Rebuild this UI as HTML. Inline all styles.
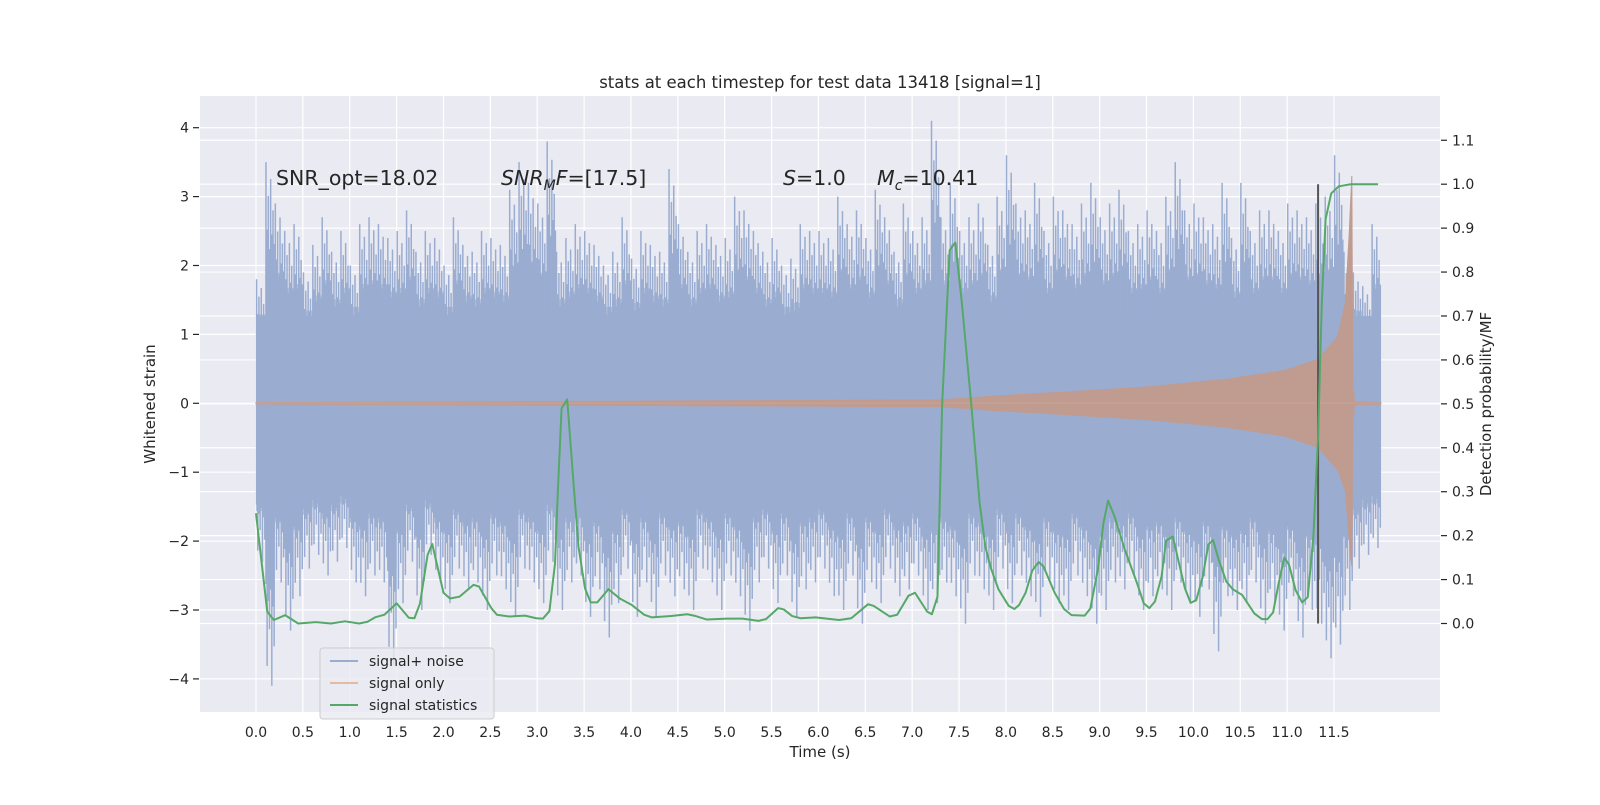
<!DOCTYPE html>
<html><head><meta charset="utf-8">
<style>
body{margin:0;background:#fff;}
svg text{font-family:"DejaVu Sans","Liberation Sans",sans-serif;fill:#262626;}
</style></head>
<body>
<svg id="chart" width="1600" height="800" viewBox="0 0 1600 800" xmlns="http://www.w3.org/2000/svg">
<rect x="200" y="96" width="1240" height="616" fill="#EAEAF2"/>
<g id="grid"></g>
<g id="noise"></g>
<g id="sig"></g>
<g id="stat"></g>
<g id="axes"></g>
<text x="820" y="88" font-size="16.5" text-anchor="middle">stats at each timestep for test data 13418 [signal=1]</text>
<text x="820" y="757" font-size="15" text-anchor="middle">Time (s)</text>
<text transform="translate(155,404) rotate(-90)" font-size="15" text-anchor="middle">Whitened strain</text>
<text transform="translate(1491,404) rotate(-90)" font-size="15" text-anchor="middle">Detection probability/MF</text>
<text x="276" y="185" font-size="20.5">SNR_opt=18.02</text>
<text x="501" y="185" font-size="20.5"><tspan font-style="italic">SNR</tspan><tspan font-style="italic" font-size="14" dy="5">M</tspan><tspan font-style="italic" dy="-5">F</tspan>=[17.5]</text>
<text x="783" y="185" font-size="20.5"><tspan font-style="italic">S</tspan>=1.0</text>
<text x="877" y="185" font-size="20.5"><tspan font-style="italic">M</tspan><tspan font-style="italic" font-size="14" dy="5">c</tspan><tspan dy="-5">=10.41</tspan></text>
<g>
<rect x="320" y="648" width="174" height="71" rx="3" fill="#EAEAF2" fill-opacity="0.8" stroke="#cccccc"/>
<line x1="330" y1="661" x2="358" y2="661" stroke="#9AADD1" stroke-width="2"/>
<text x="369" y="666" font-size="14">signal+ noise</text>
<line x1="330" y1="683" x2="358" y2="683" stroke="#E5B9A3" stroke-width="2"/>
<text x="369" y="688" font-size="14">signal only</text>
<line x1="330" y1="705" x2="358" y2="705" stroke="#55A868" stroke-width="2"/>
<text x="369" y="710" font-size="14">signal statistics</text>
</g>
</svg>
<script>
// noise peak envelope per 0.1 s bin
const noiseTop=[1.8,3.5,2.9,2.5,2.6,1.9,2.3,2.7,2.2,2.5,2.0,2.6,
2.7,2.6,2.4,2.5,2.8,2.2,2.5,2.4,2.0,2.7,2.3,2.2,
2.5,2.4,2.3,3.1,3.5,3.2,2.9,3.8,2.2,2.4,2.6,2.5,
2.3,2.0,2.2,2.7,2.1,2.5,2.3,2.2,3.4,2.6,2.2,2.5,
2.6,2.3,2.4,3.0,2.8,2.5,2.2,2.4,2.0,2.1,2.6,2.5,
2.5,2.4,3.0,2.6,2.8,2.4,3.1,2.7,2.2,2.9,2.5,2.7,
4.1,2.7,3.2,2.5,2.7,2.9,2.3,3.0,3.6,2.9,2.8,3.2,
2.5,3.0,2.8,2.6,2.9,3.2,2.7,2.9,3.1,2.5,2.6,2.8,
2.5,3.0,3.5,2.8,2.9,2.7,2.6,3.2,2.4,3.2,2.5,2.8,
2.8,2.5,2.9,2.8,2.7,2.9,3.0,3.6,2.2,1.9,1.7,2.6];
const noiseBottom=[-2.3,-4.1,-2.6,-3.3,-2.8,-2.4,-2.2,-2.5,-2.3,-2.1,-2.6,-2.8,
-2.5,-2.6,-3.8,-2.9,-2.3,-3.0,-2.2,-2.6,-2.9,-2.4,-2.7,-2.6,
-3.0,-2.5,-2.7,-3.1,-2.4,-2.6,-2.9,-2.3,-3.0,-2.6,-2.5,-3.1,
-2.7,-3.4,-2.9,-2.4,-3.1,-2.6,-3.1,-2.5,-2.8,-2.7,-3.0,-2.4,
-2.6,-3.0,-2.5,-2.8,-3.3,-2.6,-2.4,-2.9,-2.5,-3.1,-2.7,-2.6,
-2.4,-2.8,-3.0,-2.5,-3.2,-2.6,-2.9,-2.4,-2.8,-2.7,-2.5,-3.0,
-2.9,-2.6,-2.8,-3.2,-2.5,-2.7,-3.0,-2.4,-2.9,-2.5,-2.8,-3.1,
-2.6,-2.9,-3.0,-2.5,-2.8,-3.2,-3.0,-2.6,-2.7,-2.5,-3.0,-2.8,
-2.7,-3.0,-2.6,-2.9,-3.1,-2.7,-3.6,-2.8,-3.0,-2.9,-2.6,-3.2,
-2.9,-3.3,-2.8,-3.4,-3.0,-3.2,-3.7,-3.5,-3.0,-2.4,-2.2,-2.1];
const noiseBand=1.27;
// signal-only chirp envelope
const sigTimes=[0,7.3,7.89,8.7,9.53,10.36,10.98,11.33,11.54,11.62,11.66,11.69,11.70,11.72,12.0];
const sigUpper=[0.01,0.05,0.106,0.17,0.24,0.35,0.48,0.64,0.97,1.45,2.4,3.3,0.3,0.02,0.01];
const sigLower=[-0.01,-0.05,-0.106,-0.17,-0.24,-0.35,-0.48,-0.64,-0.97,-1.26,-1.94,-2.37,-0.3,-0.02,-0.01];
// detection statistics
const statT=[0,0.12,0.19,0.31,0.45,0.64,0.80,0.95,1.10,1.19,1.27,1.37,1.50,1.63,1.69,1.75,1.83,1.88,2.0,2.07,2.17,2.32,2.38,2.51,2.57,2.70,2.87,2.99,3.06,3.13,3.19,3.22,3.26,3.32,3.38,3.44,3.51,3.57,3.64,3.76,3.88,4.01,4.14,4.22,4.43,4.60,4.69,4.81,5.02,5.19,5.36,5.44,5.57,5.63,5.72,5.81,5.97,6.22,6.35,6.53,6.59,6.76,6.84,6.96,7.03,7.16,7.21,7.27,7.32,7.40,7.46,7.53,7.63,7.72,7.78,7.84,7.92,8.03,8.09,8.14,8.21,8.28,8.35,8.40,8.52,8.62,8.70,8.84,8.90,8.98,9.04,9.09,9.16,9.27,9.40,9.47,9.53,9.59,9.66,9.71,9.78,9.83,9.91,9.97,10.03,10.10,10.16,10.21,10.27,10.35,10.42,10.52,10.65,10.73,10.79,10.85,10.91,10.97,11.02,11.09,11.16,11.22,11.28,11.33,11.37,11.41,11.47,11.55,11.68,11.97];
const statP=[0.251,0.027,0.008,0.019,0.0,0.003,0.0,0.005,0.0,0.004,0.014,0.02,0.046,0.013,0.012,0.046,0.156,0.181,0.07,0.057,0.061,0.088,0.084,0.035,0.02,0.016,0.018,0.012,0.011,0.028,0.137,0.30,0.49,0.51,0.34,0.175,0.08,0.048,0.048,0.078,0.057,0.042,0.02,0.014,0.017,0.021,0.017,0.009,0.011,0.011,0.006,0.01,0.035,0.032,0.017,0.012,0.014,0.008,0.012,0.044,0.04,0.016,0.02,0.063,0.07,0.027,0.021,0.061,0.50,0.85,0.867,0.73,0.50,0.274,0.175,0.126,0.078,0.04,0.033,0.042,0.07,0.12,0.14,0.13,0.07,0.033,0.019,0.018,0.034,0.122,0.228,0.28,0.243,0.167,0.091,0.046,0.035,0.05,0.107,0.189,0.198,0.152,0.08,0.047,0.053,0.107,0.18,0.19,0.145,0.096,0.078,0.065,0.023,0.01,0.01,0.025,0.092,0.15,0.134,0.076,0.048,0.06,0.198,0.425,0.73,0.92,0.979,0.995,1.0,1.0];
const xTicks=[0,0.5,1,1.5,2,2.5,3,3.5,4,4.5,5,5.5,6,6.5,7,7.5,8,8.5,9,9.5,10,10.5,11,11.5];
const yTicksLeft=[-4,-3,-2,-1,0,1,2,3,4];
const yTicksRight=[0,0.1,0.2,0.3,0.4,0.5,0.6,0.7,0.8,0.9,1.0,1.1];
const markerTime=11.33;

const NS='http://www.w3.org/2000/svg';
const X=t=>256+t*93.74;
const YL=v=>403.3-v*68.9;
const YR=p=>623.5-p*439.3;
function mk(tag,attrs,parent){const e=document.createElementNS(NS,tag);for(const k in attrs)e.setAttribute(k,attrs[k]);parent.appendChild(e);return e;}
const grid=document.getElementById('grid'),axes=document.getElementById('axes');
xTicks.forEach(t=>{
 const g=mk('line',{x1:X(t),x2:X(t),y1:96,y2:712,stroke:'#fff','stroke-width':1.2},grid);
 
 
 const tx=mk('text',{x:X(t),y:737,'font-size':14,'text-anchor':'middle'},axes);tx.textContent=t.toFixed(1);
 
 
});
yTicksLeft.forEach(v=>{
 const g=mk('line',{x1:200,x2:1440,y1:YL(v),y2:YL(v),stroke:'#fff','stroke-width':1.2},grid);
 
 
 const tk=mk('line',{x1:193,x2:199,y1:YL(v),y2:YL(v),stroke:'#262626','stroke-width':1.2},axes);
 
 
 const tx=mk('text',{x:189,y:YL(v)+5,'font-size':14,'text-anchor':'end'},axes);tx.textContent=v<0?'\u2212'+(-v):String(v);
 
 
});
yTicksRight.forEach(p=>{
 const g=mk('line',{x1:200,x2:1440,y1:YR(p),y2:YR(p),stroke:'#fff','stroke-width':1.2},grid);
 
 
 const tk=mk('line',{x1:1441,x2:1447,y1:YR(p),y2:YR(p),stroke:'#262626','stroke-width':1.2},axes);
 
 
 const tx=mk('text',{x:1452,y:YR(p)+5,'font-size':14},axes);tx.textContent=p.toFixed(1);
 
 
});
// noise
const noise=document.getElementById('noise');
const col='#9AADD1';
let fu='',fl='';
noiseTop.forEach((v,i)=>{
 const t0=i*0.1;
 fu+=(i?'L':'M')+X(t0)+','+YL(0.55*v+0.3)+'L'+X(t0+0.1)+','+YL(0.55*v+0.3);
 fl+=(i?'L':'M')+X(t0)+','+YL(0.55*noiseBottom[i]-0.3)+'L'+X(t0+0.1)+','+YL(0.55*noiseBottom[i]-0.3);
});
const fp1=mk('path',{d:fu+'L'+X(12)+','+YL(0)+'L'+X(0)+','+YL(0)+'Z',fill:'#B4C1DC'},noise);


const fp2=mk('path',{d:fl+'L'+X(12)+','+YL(0)+'L'+X(0)+','+YL(0)+'Z',fill:'#B4C1DC'},noise);


const fr=[1,0.72,0.86,0.64,0.93,0.7,0.8,0.66];
noiseTop.forEach((v,i)=>{
 const t0=i*0.1;
 fr.forEach((f,k)=>{
  const t=t0+(k+0.5)*0.0125;
  const ln=mk('line',{x1:X(t),x2:X(t),y1:YL(noiseBottom[i]*fr[(k+3)%8]),y2:YL(v*f),stroke:col,'stroke-width':1.5},noise);
  
  
 });
});
const band=mk('rect',{x:X(0),y:YL(noiseBand),width:X(12)-X(0),height:YL(-noiseBand)-YL(noiseBand),fill:col},noise);


// signal
const sig=document.getElementById('sig');
let d='M'+sigTimes.map((t,i)=>X(t)+','+YL(sigUpper[i])).join('L');
for(let i=sigTimes.length-1;i>=0;i--)d+='L'+X(sigTimes[i])+','+YL(sigLower[i]);
const sp=mk('path',{d:d+'Z',fill:'#C09B90',stroke:'#C09B90','stroke-width':1},sig);


const sl=mk('line',{x1:X(0),x2:X(12),y1:YL(0),y2:YL(0),stroke:'#C9A090','stroke-width':1.5},sig);


// marker line
const st=document.getElementById('stat');
const mkl=mk('line',{x1:X(markerTime),x2:X(markerTime),y1:YR(1.0),y2:YR(0),stroke:'#555','stroke-width':2},st);


const gp=mk('polyline',{points:statT.map((t,i)=>X(t)+','+YR(statP[i])).join(' '),fill:'none',stroke:'#55A868','stroke-width':2,'stroke-linejoin':'round'},st);


</script>
</body></html>
